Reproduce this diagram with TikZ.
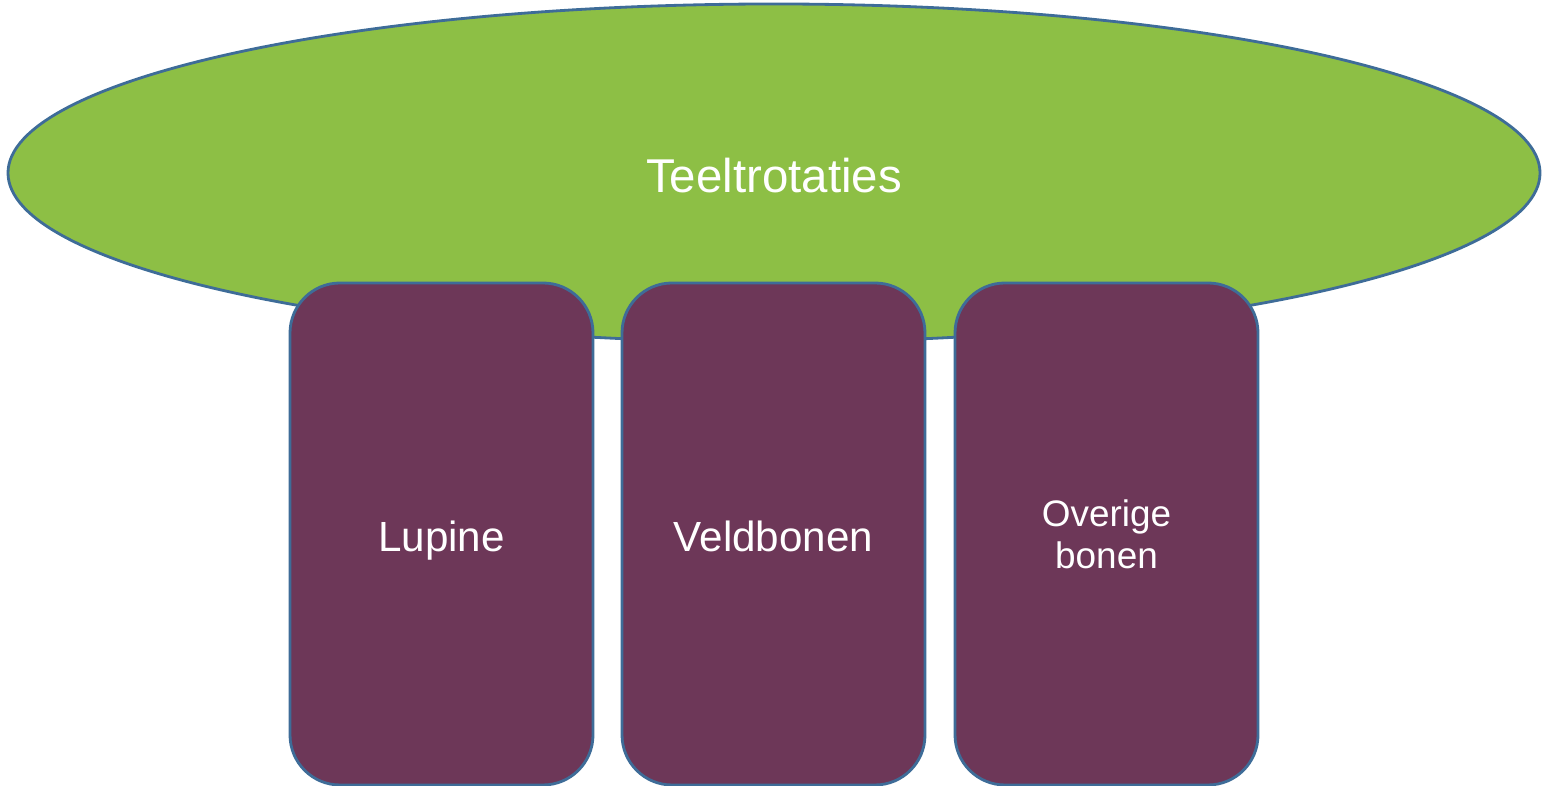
\documentclass[tikz,border=0pt]{standalone}
\usepackage{fontspec}
\setmainfont{Liberation Sans}
\usetikzlibrary{shapes.geometric}
\definecolor{leafgreen}{RGB}{141,191,69}
\definecolor{plum}{RGB}{109,55,88}
\definecolor{rimblue}{RGB}{62,108,152}

\tikzset{
	rotation/.style={ellipse, draw=rimblue, line width=0.8pt, fill=leafgreen, text=white,
		minimum width=15.32cm, minimum height=3.38cm, inner sep=0pt,
		text height=0.4cm, text depth=0pt,
		font=\fontsize{13.5}{16}\selectfont},
	crop/.style={draw=rimblue, line width=0.8pt, fill=plum, text=white, align=center,
		rounded corners=0.5cm, minimum width=3.03cm, minimum height=5.02cm, inner sep=0pt,
		font=\fontsize{12}{14}\selectfont},
	oneline/.style={text height=0.36cm, text depth=0pt}
}

\begin{document}
\begin{tikzpicture}

	\useasboundingbox (0,0) rectangle (15.42,7.86);

	\node[rotation] (rot) at (7.74,6.13) {Teeltrotaties};

	\node[crop, oneline] (lupine) at (4.415,2.52) {Lupine};
	\node[crop, oneline] (veld) at (7.735,2.52) {Veldbonen};
	\node[crop, font=\fontsize{10.5}{12}\selectfont] (overig) at (11.065,2.52) {Overige\\bonen};

\end{tikzpicture}
\end{document}
